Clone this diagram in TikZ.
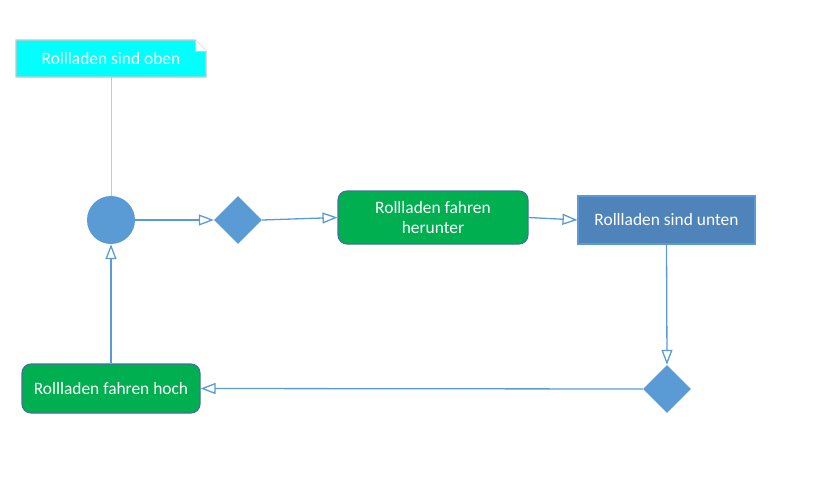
\documentclass[tikz,border=0pt]{standalone}
\usepackage{fontspec}
\setmainfont{Carlito}
\usetikzlibrary{arrows.meta,shapes.geometric,calc}
\definecolor{flowblue}{HTML}{5B9BD5}
\definecolor{boxblue}{HTML}{4F84BA}
\definecolor{boxgreen}{HTML}{00B050}
\definecolor{edgeblue}{HTML}{41719C}
\definecolor{notecyan}{HTML}{00FFFF}
\definecolor{notegray}{HTML}{C8C8C8}
\tikzset{
  every node/.style={font=\fontsize{17.4}{20.5}\selectfont, text=white, inner sep=0pt},
  actbox/.style={draw=edgeblue, line width=1.1pt, fill=boxgreen, rounded corners=9pt, align=center},
  statebox/.style={draw=flowblue, line width=1.1pt, fill=boxblue, align=center},
  decide/.style={diamond, fill=flowblue, minimum width=48pt, minimum height=48pt},
  startdot/.style={circle, fill=flowblue, minimum size=48pt},
  flow/.style={draw=flowblue, line width=1.3pt, -{Triangle[open, length=15pt, width=11pt]}},
}
\begin{document}
\begin{tikzpicture}[x=1pt,y=-1pt]
\useasboundingbox (0,0) rectangle (821,487);
% note with dog ear
\fill[notecyan] (16,40) -- (195,40) -- (206,51) -- (206,77) -- (16,77) -- cycle;
\draw[notegray, line width=1.1pt] (16,40) -- (195,40) -- (206,51) -- (206,77) -- (16,77) -- cycle;
\fill[white] (195,40) -- (206,51) -- (195,51) -- cycle;
\draw[notegray, line width=0.8pt] (195,40) -- (195,51) -- (206,51);
\node (note) at (111,58.5) {Rollladen sind oben};
\coordinate (noteb) at (111,77);
% nodes
\node[startdot] (start) at (111,220) {};
\node[decide] (d1) at (238,220) {};
\node[actbox, minimum width=190pt, minimum height=53pt] (down) at (433,217.5) {Rollladen fahren\\herunter};
\node[statebox, minimum width=177pt, minimum height=48pt] (unten) at (666.5,220) {Rollladen sind unten};
\node[decide] (d2) at (667,389) {};
\node[actbox, minimum width=178pt, minimum height=49pt] (up) at (111,388.5) {Rollladen fahren hoch};
% connectors
\draw[notegray, line width=1pt] (noteb) -- (start.north);
\draw[flow] (start.east) -- (d1.west);
\draw[flow] (d1.east) -- (down.west);
\draw[flow] (down.east) -- (unten.west);
\draw[flow] (unten.south) -- (d2.north);
\draw[flow] (d2.west) -- (up.east);
\draw[flow] (up.north) -- (start.south);
\end{tikzpicture}
\end{document}
